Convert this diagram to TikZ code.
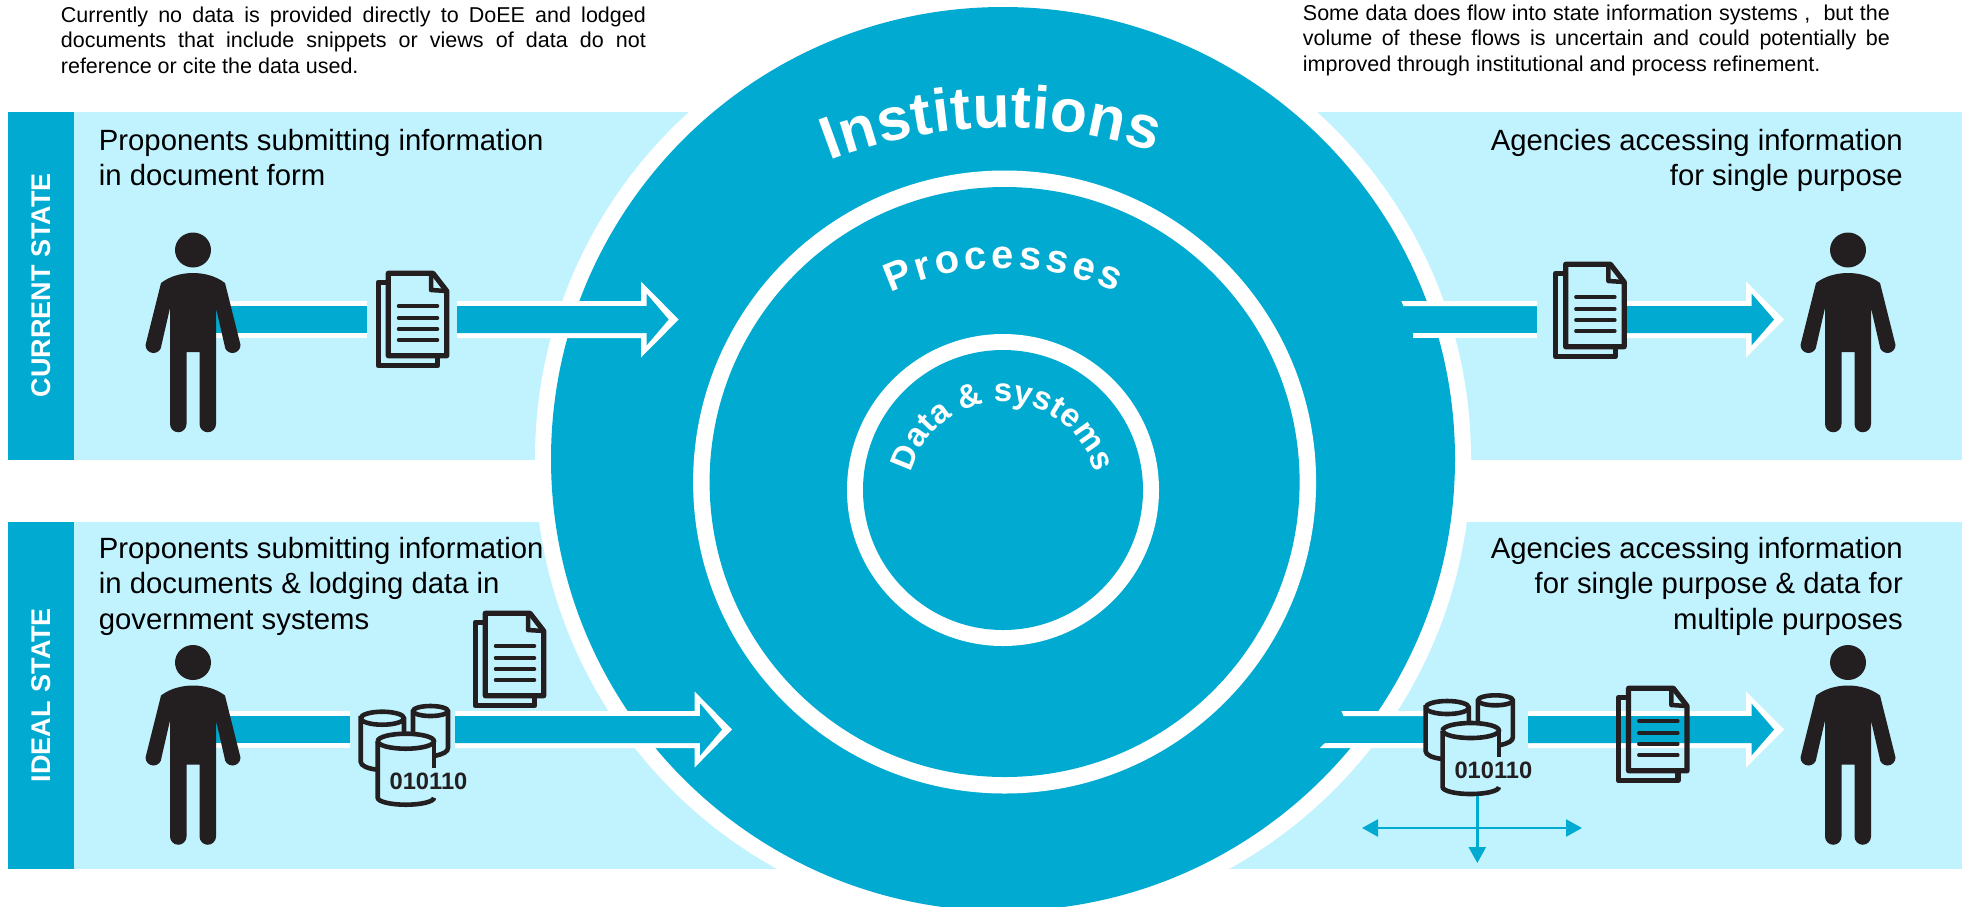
\documentclass[tikz,border=0pt]{standalone}
\usepackage{fontspec}
\setmainfont{Liberation Sans}
\usetikzlibrary{decorations.text,arrows.meta}
\definecolor{deep}{HTML}{00AAD0}
\definecolor{pale}{HTML}{C1F3FF}
\definecolor{ink}{HTML}{231F20}
\newcommand{\barpart}[3]{%
  \fill[white] ({#1},{-#3-18.5}) rectangle ({#2},{-#3+18.5});
  \fill[deep] ({#1},{-#3-13.5}) rectangle ({#2},{-#3+13.5});}
\newcommand{\headpart}[4]{% xa xback xtip yc
  \fill[white] ({#1},{-#4-18.5}) -- ({#2},{-#4-18.5}) -- ({#2},{-#4-38}) -- ({#3},{-#4}) -- ({#2},{-#4+38}) -- ({#2},{-#4+18.5}) -- ({#1},{-#4+18.5}) -- cycle;
  \fill[deep] ({#1},{-#4-13.5}) -- ({#2+5.5},{-#4-13.5}) -- ({#2+5.5},{-#4-26}) -- ({#3-10},{-#4}) -- ({#2+5.5},{-#4+26}) -- ({#2+5.5},{-#4+13.5}) -- ({#1},{-#4+13.5}) -- cycle;}
\tikzset{
  panel/.style={fill=pale},
  tab/.style={fill=deep},
  tabtext/.style={text=white,font=\fontsize{27}{30}\selectfont\bfseries,rotate=90,inner sep=0},
  lead/.style={text=black,font=\fontsize{29.3}{35.2}\selectfont,inner sep=0},
  note/.style={text=black,font=\fontsize{21.5}{25.2}\selectfont,inner sep=0,anchor=north west,align=justify},
  thin flow/.style={draw=deep,line width=2.6pt,-{Triangle[length=16pt,width=17pt]}},
  person/.pic={
    \fill[ink] (0,0) ellipse [x radius=18,y radius=17.5];
    \fill[ink] (-32,-33) .. controls (-23,-26) and (-11,-23) .. (0,-23) .. controls (11,-23) and (23,-26) .. (32,-33)
      -- (47.5,-95) arc[start angle=0,end angle=-180,radius=8] -- (23,-58) -- (23,-174)
      arc[start angle=0,end angle=-180,radius=8.25] -- (6.5,-102) -- (-6.5,-102) -- (-6.5,-174)
      arc[start angle=0,end angle=-180,radius=8.25] -- (-23,-58) -- (-31.5,-95)
      arc[start angle=0,end angle=-180,radius=8] -- cycle;
  },
  docicon/.pic={
    \draw[ink,line width=5.2pt,line join=round] (2.25,-11.25) -- (-7.75,-11.25) -- (-7.75,-94.75) -- (51.75,-94.75) -- (51.75,-84.75);
    \draw[ink,line width=5.2pt,line join=round] (2.25,-2.25) -- (47,-2.25) -- (60.75,-20) -- (60.75,-84.75) -- (2.25,-84.75) -- cycle;
    \draw[ink,line width=4.5pt,line join=round] (45,-2.25) -- (45,-19) -- (60.75,-20);
    \foreach \yy in {35,47,58,69} \draw[ink,line width=3.5pt,line cap=round] (12.5,-\yy) -- (51.5,-\yy);
  },
  dbicon/.pic={
    \filldraw[ink,fill=pale,line width=4.6pt] (-15,13.5) -- (-15,-30) .. controls (-15,-34) and (-8,-37) .. (2,-38) -- (28.3,-38) -- (28.3,13.5) arc[start angle=0,end angle=180,x radius=21.65,y radius=6.5] -- cycle;
    \draw[ink,line width=4.6pt] (-15,13.5) arc[start angle=180,end angle=360,x radius=21.65,y radius=6.5];
    \filldraw[ink,fill=pale,line width=4.6pt] (37.3,20.7) -- (37.3,-24) -- (60,-24) .. controls (68,-22) and (72.3,-20) .. (72.3,-16) -- (72.3,20.7) arc[start angle=0,end angle=180,x radius=17.5,y radius=5] -- cycle;
    \draw[ink,line width=4.6pt] (37.3,20.7) arc[start angle=180,end angle=360,x radius=17.5,y radius=5];
    \fill[pale] (2,-9.5) -- (2,-66) arc[start angle=180,end angle=360,x radius=28.15,y radius=7] -- (58.3,-9.5) arc[start angle=0,end angle=180,x radius=28.15,y radius=7.5];
    \draw[ink,line width=4.6pt] (2,-9.5) arc[start angle=180,end angle=-180,x radius=28.15,y radius=7.5];
    \draw[ink,line width=4.6pt] (2,-9.5) -- (2,-66) arc[start angle=180,end angle=360,x radius=28.15,y radius=7];
    \draw[ink,line width=4.6pt] (58.3,-9.5) -- (58.3,-36);
  },
  dbtext/.style={text=ink,font=\fontsize{23.7}{26}\selectfont\bfseries,inner sep=0},
}
\begin{document}
\begin{tikzpicture}[x=1pt,y=1pt]
\useasboundingbox (0,0) rectangle (1962,-906);
\clip (0,0) rectangle (1962,-906);
% panels
\fill[panel] (74,-112) rectangle (1962,-460);
\fill[panel] (74,-522) rectangle (1962,-869);
\fill[tab] (8,-112) rectangle (74,-460);
\fill[tab] (8,-522) rectangle (74,-869);
\node[tabtext] (currentlabel) at (41,-285) {CURRENT STATE};
\node[tabtext] (ideallabel) at (41,-695) {IDEAL\hspace{1pt} STATE};
% rings
\fill[white] (1003,-459) circle [radius=468];
\fill[deep] (1003,-459) circle [radius=452];
\fill[white] (1004.6,-482) circle [radius=311.5];
\fill[deep] (1004.6,-482) circle [radius=295];
\fill[white] (1003,-490) circle [radius=156];
\fill[deep] (1003,-490) circle [radius=140];
% curved titles
\path[postaction={decorate},decoration={text along path,text align={fit to path},
  text={|\fontsize{60.5}{60.5}\selectfont\bfseries\color{white}|Institutions}}]
  (1004,-615) ++(111:487) arc[start angle=111,end angle=72,radius=487];
\path[postaction={decorate},decoration={text along path,text align={fit to path},
  text={|\fontsize{40}{40}\selectfont\bfseries\color{white}|Processes}}]
  (1003,-540) ++(114.5:272) arc[start angle=114.5,end angle=65.5,radius=272];
\path[postaction={decorate},decoration={text along path,text align={fit to path},
  text={|\fontsize{33}{33}\selectfont\bfseries\color{white}|Data {\&} systems}}]
  (1003,-497) ++(165:95) arc[start angle=165,end angle=15,radius=95];
% top notes
\node[note,text width=585pt] (noteleft) at (60.7,-7) {Currently no data is provided directly to DoEE and lodged\linebreak documents that include snippets or views of data do not\linebreak reference or cite the data used.};
\node[note,text width=587pt] (noteright) at (1302.7,-5) {Some data does flow into state information systems ,\ \ but the\linebreak volume of these flows is uncertain and could potentially be\linebreak improved through institutional and process refinement.};
% lead texts
\node[lead,anchor=base west,align=left] (leadul) at (98.7,-185.7) {Proponents submitting information\\in document form};
\node[lead,anchor=base west,align=left] (leadll) at (98.7,-629) {Proponents submitting information\\in documents \& lodging data in\\government systems};
\node[lead,anchor=base east,align=right] (leadur) at (1903,-185.7) {Agencies accessing information\\for single purpose};
\node[lead,anchor=base east,align=right] (leadlr) at (1903,-629) {Agencies accessing information\\for single purpose \& data for\\multiple purposes};
% upper-left arrow
\barpart{216}{367}{319.5}
\headpart{457}{641}{678.6}{319.5}
% upper-right arrow
\fill[deep] (1400,-306) rectangle (1537,-333);
\fill[white] (1401.3,-301) -- (1537,-301) -- (1537,-306) -- (1403.4,-306) -- cycle;
\fill[white] (1413,-333) -- (1537,-333) -- (1537,-338) -- (1413,-338) -- cycle;
\headpart{1626}{1746}{1784}{319.5}
% lower-left arrow
\barpart{216}{350}{729.5}
\headpart{455}{694.6}{732}{729.5}
% lower-right arrow
\fill[deep] (1318,-716) rectangle (1428,-743);
\fill[white] (1341.4,-711) -- (1428,-711) -- (1428,-716) -- (1343.5,-716) -- cycle;
\fill[white] (1325,-743) -- (1428,-743) -- (1428,-748) -- (1319.8,-748) -- cycle;
\headpart{1528}{1746}{1784}{729.5}
% people
\pic (personul) at (193,-250) {person};
\pic (personll) at (193,-662.5) {person};
\pic (personur) at (1848,-250) {person};
\pic (personlr) at (1848,-662.5) {person};
% documents
\pic (docul) at (386,-271) {docicon};
\pic (docur) at (1563.4,-262) {docicon};
\pic (docll) at (483,-611) {docicon};
\pic (doclr) at (1626.3,-686) {docicon};
% databases
\pic (dbll) at (375.7,-731.7) {dbicon};
\pic (dblr) at (1440.6,-721) {dbicon};
\node[dbtext] (bitsll) at (428.5,-781) {010110};
\node[dbtext] (bitslr) at (1493.4,-770.5) {010110};
% distribution arrows
\coordinate (hub) at (1477.3,-828);
\coordinate (west) at (1362,-828);
\coordinate (east) at (1582,-828);
\coordinate (south) at (1477.3,-863);
\coordinate (dbfoot) at (1477.3,-795.7);
\draw[thin flow] (dbfoot) -- (south);
\draw[thin flow] (hub) -- (west);
\draw[thin flow] (hub) -- (east);
\end{tikzpicture}
\end{document}
